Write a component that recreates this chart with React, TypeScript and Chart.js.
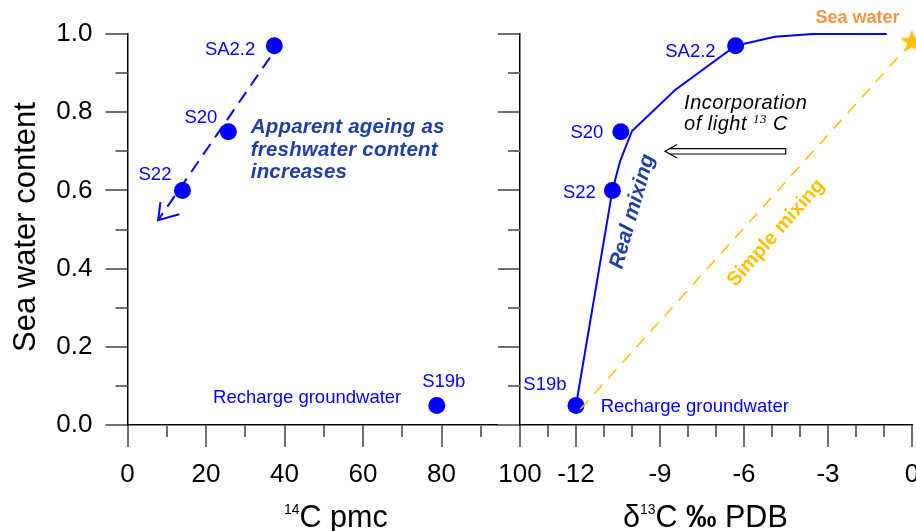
import React, { useEffect, useRef } from 'react';
import { Chart, registerables } from 'chart.js';

Chart.register(...registerables);

// ---------- data ----------
const samples = ['SA2.2', 'S20', 'S22', 'S19b'];
const seaWaterContent = [0.97, 0.75, 0.6, 0.05];
const c14pmc = [37.4, 25.7, 14.0, 78.8];
const d13C = [-6.3, -10.4, -10.7, -12.0];

const realMixX = [-12.0, -10.7, -10.43, -10.0, -8.46, -6.3, -4.9, -3.55, -0.9];
const realMixY = [0.05, 0.6, 0.674, 0.752, 0.857, 0.97, 0.993, 1.0, 1.0];

const simpleMixX = [-11.85, 0];
const simpleMixY = [0.04, 0.98];

const seaWaterX = [0];
const seaWaterY = [0.98];

const ageingArrowX = [36.3, 7.8];
const ageingArrowY = [0.94, 0.524];
const ageingHeadX = [8.4, 7.8, 13.2];
const ageingHeadY = [0.57, 0.524, 0.539];

const lightCArrowX = [-8.82, -4.51];
const lightCArrowY = [0.7, 0.7];

const yMajor = [0, 0.2, 0.4, 0.6, 0.8, 1.0];
const yMinor = [0.1, 0.3, 0.5, 0.7, 0.9];
const pmcMajor = [0, 20, 40, 60, 80, 100];
const pmcMinor = [10, 30, 50, 70, 90];
const d13Major = [-14, -12, -9, -6, -3, 0];
const d13Minor = [-13, -11, -10, -8, -7, -5, -4, -2, -1];

// ---------- styles ----------
const FONT = '"Liberation Sans", Arial, sans-serif';
const SERIF = '"Liberation Serif", "Times New Roman", serif';
const BLUE = '#0000FF';
const NAVY = '#1F3FA8';
const GOLD = '#FFC000';
const ORANGE = '#F79646';
const TICK = '#707070';
const MAJOR_LEN = 22;
const MINOR_LEN = 12;

const pts = (xs: number[], ys: number[]) => xs.map((x, i) => ({ x, y: ys[i] }));

function makeStar(r: number, color: string) {
  const size = Math.ceil(r * 2 + 2);
  const c = document.createElement('canvas');
  c.width = size;
  c.height = size;
  const ctx = c.getContext('2d')!;
  ctx.fillStyle = color;
  ctx.beginPath();
  for (let i = 0; i < 10; i++) {
    const rad = i % 2 === 0 ? r : r * 0.42;
    const a = -Math.PI / 2 + (i * Math.PI) / 5;
    const px = size / 2 + rad * Math.cos(a);
    const py = size / 2 + rad * Math.sin(a);
    if (i === 0) ctx.moveTo(px, py);
    else ctx.lineTo(px, py);
  }
  ctx.closePath();
  ctx.fill();
  return c;
}

type Seg = { text: string; font: string; dy?: number };
type Note = {
  x: number;
  y: number;
  lines?: string[];
  segs?: Seg[];
  font?: string;
  color: string;
  align?: CanvasTextAlign;
  rotate?: number;
  gap?: number;
  spacing?: string;
};
type PtLabel = { dx: number; dy: number; align: CanvasTextAlign };

function axisPlugin(xMinor: number[], yMinorV: number[]) {
  return {
    id: 'minorTicks',
    afterDraw(chart: any) {
      const ctx = chart.ctx;
      const xs = chart.scales.x;
      const ys = chart.scales.y;
      ctx.save();
      ctx.strokeStyle = TICK;
      ctx.lineWidth = 2;
      ctx.beginPath();
      for (const v of xMinor) {
        const px = Math.round(xs.getPixelForValue(v));
        ctx.moveTo(px, chart.chartArea.bottom);
        ctx.lineTo(px, chart.chartArea.bottom + MINOR_LEN);
      }
      for (const v of yMinorV) {
        const py = Math.round(ys.getPixelForValue(v));
        ctx.moveTo(chart.chartArea.left - MINOR_LEN, py);
        ctx.lineTo(chart.chartArea.left, py);
      }
      ctx.stroke();
      ctx.restore();
    },
  };
}

function textPlugin(
  xv: number[],
  yv: number[],
  ptLabels: PtLabel[],
  notes: Note[],
  extra?: (chart: any) => void
) {
  return {
    id: 'texts',
    afterDatasetsDraw(chart: any) {
      const ctx = chart.ctx;
      const xs = chart.scales.x;
      const ys = chart.scales.y;
      ctx.save();
      if (extra) extra(chart);
      ctx.textBaseline = 'middle';
      ctx.font = `18.5px ${FONT}`;
      ctx.fillStyle = BLUE;
      samples.forEach((s, i) => {
        const l = ptLabels[i];
        ctx.textAlign = l.align;
        ctx.fillText(s, xs.getPixelForValue(xv[i]) + l.dx, ys.getPixelForValue(yv[i]) + l.dy);
      });
      for (const n of notes) {
        ctx.save();
        ctx.translate(xs.getPixelForValue(n.x), ys.getPixelForValue(n.y));
        if (n.rotate) ctx.rotate((n.rotate * Math.PI) / 180);
        ctx.fillStyle = n.color;
        (ctx as any).letterSpacing = n.spacing || '0px';
        if (n.lines) {
          ctx.font = n.font!;
          ctx.textAlign = n.align || 'left';
          n.lines.forEach((t, i) => ctx.fillText(t, 0, i * (n.gap || 0)));
        } else if (n.segs) {
          ctx.textAlign = 'left';
          let cx = 0;
          for (const s of n.segs) {
            ctx.font = s.font;
            ctx.fillText(s.text, cx, s.dy || 0);
            cx += ctx.measureText(s.text).width;
          }
        }
        ctx.restore();
      }
      ctx.restore();
    },
  };
}

function drawTitleSegs(ctx: CanvasRenderingContext2D, segs: Seg[], x: number, y: number) {
  ctx.textAlign = 'left';
  ctx.textBaseline = 'alphabetic';
  let cx = x;
  for (const s of segs) {
    ctx.font = s.font;
    ctx.fillText(s.text, cx, y + (s.dy || 0));
    cx += ctx.measureText(s.text).width;
  }
}

function scaleCommon(major: number[], label: (v: number) => string, pad: number, showLabels = true) {
  return {
    type: 'linear' as const,
    afterBuildTicks: (s: any) => {
      s.ticks = major.map((v) => ({ value: v }));
    },
    grid: {
      drawOnChartArea: false,
      drawTicks: true,
      tickLength: MAJOR_LEN,
      color: TICK,
      tickColor: TICK,
      lineWidth: 2,
      tickWidth: 2,
    },
    border: { display: true, color: '#000', width: 1.5 },
    ticks: {
      display: showLabels,
      autoSkip: false,
      maxRotation: 0,
      padding: pad,
      color: '#000',
      font: { family: FONT, size: 26 },
      callback: (v: any) => label(Number(v)),
    },
  };
}

export default function App() {
  const leftRef = useRef<HTMLCanvasElement>(null);
  const rightRef = useRef<HTMLCanvasElement>(null);

  useEffect(() => {
    const star = makeStar(12.5, GOLD);

    const leftLabels: PtLabel[] = [
      { dx: -19, dy: 4, align: 'right' },
      { dx: -11, dy: -14, align: 'right' },
      { dx: -11, dy: -15, align: 'right' },
      { dx: 7, dy: -24, align: 'center' },
    ];
    const leftNotes: Note[] = [
      {
        x: 21.8,
        y: 0.07,
        lines: ['Recharge groundwater'],
        font: `18.5px ${FONT}`,
        color: BLUE,
      },
      {
        x: 31.4,
        y: 0.761,
        lines: ['Apparent ageing as', 'freshwater content', 'increases'],
        font: `italic bold 20.5px ${FONT}`,
        color: NAVY,
        gap: 22.6,
        spacing: '0.2px',
      },
    ];

    const left = new Chart(leftRef.current!, {
      type: 'scatter',
      data: {
        datasets: [
          {
            type: 'line',
            data: pts(ageingArrowX, ageingArrowY),
            borderColor: BLUE,
            borderWidth: 2,
            borderDash: [13, 8],
            pointRadius: 0,
            fill: false,
            clip: false,
          } as any,
          {
            type: 'line',
            data: pts(ageingHeadX, ageingHeadY),
            borderColor: BLUE,
            borderWidth: 2,
            pointRadius: 0,
            fill: false,
            clip: false,
          } as any,
          {
            type: 'scatter',
            data: pts(c14pmc, seaWaterContent),
            pointRadius: 8.5,
            backgroundColor: BLUE,
            borderWidth: 0,
            clip: false,
          } as any,
        ],
      },
      options: {
        responsive: false,
        animation: false,
        events: [],
        layout: { padding: { top: 34, right: 396, left: 0, bottom: 0 } },
        plugins: { legend: { display: false }, tooltip: { enabled: false } },
        scales: {
          x: {
            ...scaleCommon(pmcMajor, (v) => String(v), 12),
            min: 0,
            max: 100,
            afterFit: (s: any) => {
              s.height = 106;
            },
          },
          y: {
            ...scaleCommon(yMajor, (v) => v.toFixed(1), 13),
            min: 0,
            max: 1,
            afterFit: (s: any) => {
              s.width = 127.5;
            },
          },
        } as any,
      },
      plugins: [
        axisPlugin(pmcMinor, yMinor),
        textPlugin(c14pmc, seaWaterContent, leftLabels, leftNotes),
        {
          id: 'titlesL',
          afterDraw(chart: any) {
            const ctx = chart.ctx;
            ctx.save();
            ctx.fillStyle = '#000';
            drawTitleSegs(
              ctx,
              [
                { text: '14', font: `14px ${FONT}`, dy: -13 },
                { text: 'C pmc', font: `30.5px ${FONT}` },
              ],
              284,
              527
            );
            ctx.translate(35, 227);
            ctx.rotate(-Math.PI / 2);
            ctx.font = `31px ${FONT}`;
            ctx.textAlign = 'center';
            ctx.textBaseline = 'alphabetic';
            ctx.fillText('Sea water content', 0, 0);
            ctx.restore();
          },
        },
      ],
    });

    const rightLabels: PtLabel[] = [
      { dx: -20, dy: 6, align: 'right' },
      { dx: -17.5, dy: 1, align: 'right' },
      { dx: -16.5, dy: 3, align: 'right' },
      { dx: -9.5, dy: -20.5, align: 'right' },
    ];
    const rightNotes: Note[] = [
      {
        x: -11.12,
        y: 0.047,
        lines: ['Recharge groundwater'],
        font: `18.5px ${FONT}`,
        color: BLUE,
      },
      {
        x: -1.95,
        y: 1.04,
        lines: ['Sea water'],
        font: `bold 18px ${FONT}`,
        color: ORANGE,
        align: 'center',
      },
      {
        x: -8.14,
        y: 0.823,
        lines: ['Incorporation'],
        font: `italic 20px ${FONT}`,
        color: '#000',
        spacing: '0.5px',
      },
      {
        x: -8.14,
        y: 0.768,
        segs: [
          { text: 'of light ', font: `italic 20px ${FONT}` },
          { text: '13', font: `italic 13px ${SERIF}`, dy: -5 },
          { text: ' C', font: `italic 20px ${FONT}` },
        ],
        color: '#000',
        spacing: '0.5px',
      },
      {
        x: -9.98,
        y: 0.546,
        lines: ['Real mixing'],
        font: `italic bold 21px ${FONT}`,
        color: NAVY,
        align: 'center',
        rotate: -74,
      },
      {
        x: -4.86,
        y: 0.491,
        lines: ['Simple mixing'],
        font: `bold 20px ${FONT}`,
        color: GOLD,
        align: 'center',
        rotate: -48.5,
      },
    ];

    const drawHollowArrow = (chart: any) => {
      const ctx = chart.ctx;
      const xs = chart.scales.x;
      const ys = chart.scales.y;
      const tx = xs.getPixelForValue(lightCArrowX[0]);
      const sx = xs.getPixelForValue(lightCArrowX[1]);
      const ty = ys.getPixelForValue(lightCArrowY[0]);
      const hl = 12;
      const hh = 6.7;
      const sh = 2.7;
      const jx = tx + (hl * sh) / hh;
      ctx.save();
      ctx.strokeStyle = '#000';
      ctx.fillStyle = '#fff';
      ctx.lineWidth = 1.2;
      ctx.beginPath();
      ctx.rect(jx, ty - sh, sx - jx, sh * 2);
      ctx.fill();
      ctx.beginPath();
      ctx.moveTo(jx, ty - sh);
      ctx.lineTo(sx, ty - sh);
      ctx.lineTo(sx, ty + sh);
      ctx.lineTo(jx, ty + sh);
      ctx.stroke();
      ctx.beginPath();
      ctx.moveTo(tx + hl, ty - hh);
      ctx.lineTo(tx, ty);
      ctx.lineTo(tx + hl, ty + hh);
      ctx.stroke();
      ctx.restore();
    };

    const right = new Chart(rightRef.current!, {
      type: 'scatter',
      data: {
        datasets: [
          {
            type: 'line',
            data: pts(simpleMixX, simpleMixY),
            borderColor: GOLD,
            borderWidth: 1.5,
            borderDash: [12, 9],
            pointRadius: 0,
            fill: false,
            clip: false,
          } as any,
          {
            type: 'line',
            data: pts(realMixX, realMixY),
            borderColor: BLUE,
            borderWidth: 2,
            pointRadius: 0,
            fill: false,
            clip: false,
          } as any,
          {
            type: 'scatter',
            data: pts(d13C, seaWaterContent),
            pointRadius: 8.5,
            backgroundColor: BLUE,
            borderWidth: 0,
            clip: false,
          } as any,
          {
            type: 'scatter',
            data: pts(seaWaterX, seaWaterY),
            pointStyle: star,
            pointRadius: 12,
            clip: false,
          } as any,
        ],
      },
      options: {
        responsive: false,
        animation: false,
        events: [],
        layout: { padding: { top: 34, right: 28, left: 490, bottom: 0 } },
        plugins: { legend: { display: false }, tooltip: { enabled: false } },
        scales: {
          x: {
            ...scaleCommon(d13Major, (v) => (v === -14 ? '' : String(v)), 12),
            min: -14,
            max: 0,
            afterFit: (s: any) => {
              s.height = 106;
            },
          },
          y: {
            ...scaleCommon(yMajor, () => '', 0, false),
            min: 0,
            max: 1,
            afterFit: (s: any) => {
              s.width = 30;
            },
          },
        } as any,
      },
      plugins: [
        axisPlugin(d13Minor, yMinor),
        textPlugin(d13C, seaWaterContent, rightLabels, rightNotes, drawHollowArrow),
        {
          id: 'titlesR',
          afterDraw(chart: any) {
            const ctx = chart.ctx;
            ctx.save();
            ctx.fillStyle = '#000';
            drawTitleSegs(
              ctx,
              [
                { text: 'δ', font: `30.5px ${FONT}` },
                { text: '13', font: `14px ${FONT}`, dy: -13 },
                { text: 'C ', font: `30.5px ${FONT}` },
                { text: '‰', font: `bold 30.5px ${FONT}` },
                { text: ' PDB', font: `30.5px ${FONT}` },
              ],
              623,
              527
            );
            ctx.restore();
          },
        },
      ],
    });

    return () => {
      left.destroy();
      right.destroy();
    };
  }, []);

  return (
    <div
      style={{
        position: 'fixed',
        left: 0,
        top: 0,
        width: 916,
        height: 531,
        overflow: 'hidden',
        background: '#fff',
      }}
    >
      <canvas
        ref={leftRef}
        width={916}
        height={531}
        style={{ position: 'absolute', left: 0, top: 0, width: 916, height: 531 }}
      />
      <canvas
        ref={rightRef}
        width={940}
        height={531}
        style={{ position: 'absolute', left: 0, top: 0, width: 940, height: 531 }}
      />
    </div>
  );
}
